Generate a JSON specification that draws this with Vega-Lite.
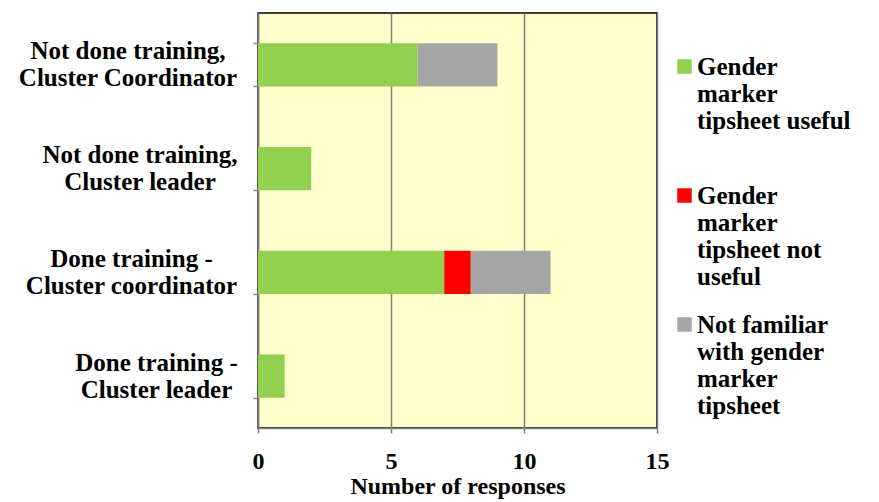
{
  "$schema": "https://vega.github.io/schema/vega-lite/v6.json",
  "autosize": {"type": "none"},
  "width": 399,
  "height": 415,
  "padding": {"left": 258, "top": 13, "right": 222, "bottom": 74},
  "background": "white",
  "data": {
    "values": [
      {"group": "Not done training, Cluster Coordinator", "response": "Gender marker tipsheet useful", "rank": 1, "count": 6},
      {"group": "Not done training, Cluster Coordinator", "response": "Gender marker tipsheet not useful", "rank": 2, "count": 0},
      {"group": "Not done training, Cluster Coordinator", "response": "Not familiar with gender marker tipsheet", "rank": 3, "count": 3},
      {"group": "Not done training, Cluster leader", "response": "Gender marker tipsheet useful", "rank": 1, "count": 2},
      {"group": "Not done training, Cluster leader", "response": "Gender marker tipsheet not useful", "rank": 2, "count": 0},
      {"group": "Not done training, Cluster leader", "response": "Not familiar with gender marker tipsheet", "rank": 3, "count": 0},
      {"group": "Done training - Cluster coordinator", "response": "Gender marker tipsheet useful", "rank": 1, "count": 7},
      {"group": "Done training - Cluster coordinator", "response": "Gender marker tipsheet not useful", "rank": 2, "count": 1},
      {"group": "Done training - Cluster coordinator", "response": "Not familiar with gender marker tipsheet", "rank": 3, "count": 3},
      {"group": "Done training - Cluster leader", "response": "Gender marker tipsheet useful", "rank": 1, "count": 1},
      {"group": "Done training - Cluster leader", "response": "Gender marker tipsheet not useful", "rank": 2, "count": 0},
      {"group": "Done training - Cluster leader", "response": "Not familiar with gender marker tipsheet", "rank": 3, "count": 0}
    ]
  },
  "mark": {"type": "bar", "strokeWidth": 0},
  "encoding": {
    "y": {
      "field": "group",
      "type": "nominal",
      "sort": [
        "Not done training, Cluster Coordinator",
        "Not done training, Cluster leader",
        "Done training - Cluster coordinator",
        "Done training - Cluster leader"
      ],
      "scale": {"paddingInner": 0.585, "paddingOuter": 0.2925},
      "axis": {
        "title": null,
        "tickBand": "extent",
        "tickSize": 5,
        "tickColor": "#808080",
        "tickWidth": 1.5,
        "domainColor": "#808080",
        "domainWidth": 1.5,
        "labelFont": "Times New Roman",
        "labelFontWeight": "bold",
        "labelFontSize": 25,
        "labelColor": "black",
        "labelLimit": 300,
        "labelLineHeight": 27,
        "labelAlign": "center",
        "labelBaseline": "middle",
        "labelOffset": -14,
        "labelPadding": {
          "condition": [
            {"test": "datum.value == 'Not done training, Cluster Coordinator'", "value": 125.5},
            {"test": "datum.value == 'Not done training, Cluster leader'", "value": 113.5},
            {"test": "datum.value == 'Done training - Cluster coordinator'", "value": 122}
          ],
          "value": 97
        },
        "labelExpr": "datum.value == 'Not done training, Cluster Coordinator' ? ['Not done training,', 'Cluster Coordinator'] : datum.value == 'Not done training, Cluster leader' ? ['Not done training,', 'Cluster leader'] : datum.value == 'Done training - Cluster coordinator' ? ['Done training -', 'Cluster coordinator'] : datum.value == 'Done training - Cluster leader' ? ['Done training -', 'Cluster leader'] : ''"
      }
    },
    "x": {
      "field": "count",
      "type": "quantitative",
      "stack": "zero",
      "scale": {"domain": [0, 15], "nice": false},
      "axis": {
        "title": "Number of responses",
        "values": [0, 5, 10, 15],
        "grid": true,
        "gridColor": "#808080",
        "gridWidth": 1.5,
        "tickSize": 5,
        "tickColor": "#808080",
        "tickWidth": 1.5,
        "domainColor": "#808080",
        "domainWidth": 1.5,
        "labelFont": "Times New Roman",
        "labelFontWeight": "bold",
        "labelFontSize": 24,
        "labelColor": "black",
        "labelPadding": 16,
        "labelFlush": false,
        "titleFont": "Times New Roman",
        "titleFontWeight": "bold",
        "titleFontSize": 24,
        "titleColor": "black",
        "titlePadding": 1
      }
    },
    "color": {
      "field": "response",
      "type": "nominal",
      "scale": {
        "domain": ["Gender marker tipsheet useful", "Gender marker tipsheet not useful", "Not familiar with gender marker tipsheet"],
        "range": ["#92D050", "#FF0000", "#A6A6A6"]
      },
      "legend": {
        "title": null,
        "orient": "none",
        "legendX": 414,
        "legendY": 41,
        "symbolType": "square",
        "symbolSize": 210,
        "symbolStrokeWidth": 0,
        "symbolOpacity": 1,
        "labelFont": "Times New Roman",
        "labelFontWeight": "bold",
        "labelFontSize": 25,
        "labelColor": "black",
        "labelLimit": 300,
        "labelLineHeight": 27,
        "labelBaseline": "middle",
        "labelOffset": 0,
        "rowPadding": 22,
        "labelExpr": "datum.label == 'Gender marker tipsheet useful' ? ['Gender', 'marker', 'tipsheet useful', ' '] : datum.label == 'Gender marker tipsheet not useful' ? ['Gender', 'marker', 'tipsheet not', 'useful'] : ['Not familiar', 'with gender', 'marker', 'tipsheet']"
      }
    },
    "order": {"field": "rank", "type": "quantitative"}
  },
  "config": {
    "view": {"fill": "#FFFFCC", "stroke": "black", "strokeWidth": 1.5}
  }
}
